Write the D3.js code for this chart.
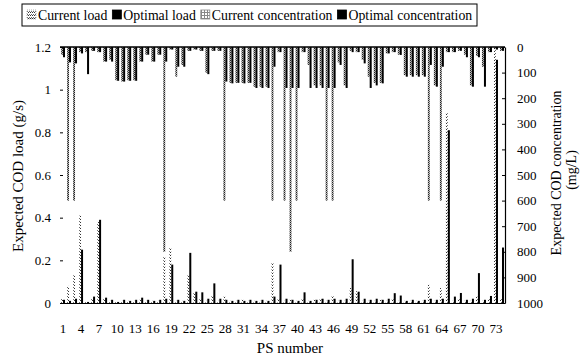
<!DOCTYPE html>
<html>
<head>
<meta charset="utf-8">
<script src="https://cdn.jsdelivr.net/npm/d3@7"></script>
<style>
  body { margin: 0; background: #fff; }
  svg, svg text { font-family: "Liberation Serif", "DejaVu Serif", serif; }
</style>
</head>
<body>
<div id="chart"></div>
<script>
// PS numbers 1..74
const psNumbers = d3.range(1, 75);

// expected COD load (g/s)
const currentLoad = [
  0.02, 0.08, 0.13, 0.41, 0.005, 0.02, 0.38, 0.02, 0.01, 0.005,
  0.01, 0.01, 0.01, 0.015, 0.01, 0.01, 0.01, 0.22, 0.26, 0.01,
  0.01, 0.13, 0.05, 0.02, 0.01, 0.035, 0.01, 0.03, 0.01, 0.01,
  0.015, 0.01, 0.01, 0.01, 0.01, 0.19, 0.02, 0.01, 0.015, 0.01,
  0.02, 0.01, 0.015, 0.02, 0.01, 0.037, 0.01, 0.01, 0.07, 0.055,
  0.01, 0.01, 0.01, 0.015, 0.01, 0.02, 0.01, 0.01, 0.01, 0.01,
  0.01, 0.085, 0.01, 0.07, 0.89, 0.01, 0.02, 0.01, 0.01, 0.03,
  0.01, 0.02, 1.19, 0.02
];
const optimalLoad = [
  0.015, 0.01, 0.02, 0.25, 0.005, 0.03, 0.39, 0.025, 0.015, 0.005,
  0.015, 0.01, 0.015, 0.025, 0.015, 0.01, 0.015, 0.02, 0.18, 0.015,
  0.01, 0.235, 0.053, 0.05, 0.02, 0.092, 0.02, 0.015, 0.01, 0.015,
  0.01, 0.015, 0.01, 0.015, 0.01, 0.03, 0.18, 0.02, 0.015, 0.01,
  0.05, 0.01, 0.015, 0.02, 0.015, 0.02, 0.015, 0.02, 0.205, 0.053,
  0.02, 0.015, 0.02, 0.015, 0.02, 0.046, 0.035, 0.01, 0.015, 0.01,
  0.015, 0.02, 0.015, 0.02, 0.81, 0.03, 0.047, 0.015, 0.02, 0.14,
  0.015, 0.033, 1.14, 0.26
];

// expected COD concentration (mg/L)
const currentConc = [
  30, 600, 600, 20, 20, 15, 20, 57, 50, 130,
  135, 130, 130, 57, 30, 57, 30, 800, 10, 116,
  70, 15, 10, 15, 100, 15, 15, 600, 140, 140,
  140, 140, 155, 155, 155, 600, 20, 600, 800, 600,
  20, 70, 150, 150, 600, 600, 60, 150, 15, 20,
  50, 116, 140, 140, 25, 20, 30, 110, 110, 110,
  110, 600, 150, 600, 20, 20, 15, 30, 150, 35,
  77, 20, 10, 15
];
const optimalConc = [
  40, 60, 64, 25, 106, 15, 20, 57, 57, 132,
  135, 132, 132, 57, 30, 57, 30, 57, 10, 77,
  77, 15, 10, 15, 106, 15, 15, 135, 142, 140,
  142, 140, 160, 160, 160, 77, 20, 160, 160, 160,
  20, 160, 160, 160, 160, 160, 70, 160, 20, 20,
  64, 160, 150, 142, 25, 20, 31, 116, 116, 116,
  116, 70, 155, 77, 20, 20, 15, 40, 155, 40,
  155, 20, 10, 15
];

const xTickLabels = [1, 4, 7, 10, 13, 16, 19, 22, 25, 28, 31, 34, 37, 40, 43, 46, 49, 52, 55, 58, 61, 64, 67, 70, 73];
const loadTicks = [0, 0.2, 0.4, 0.6, 0.8, 1, 1.2];
const concTicks = [0, 100, 200, 300, 400, 500, 600, 700, 800, 900, 1000];

const width = 580, height = 357;
const plot = { left: 60, right: 505, top: 47, bottom: 303 };
const serif = '"Liberation Serif", "DejaVu Serif", serif';

const svg = d3.select('#chart').append('svg')
  .attr('width', width)
  .attr('height', height)
  .attr('font-family', serif);

/* ---------- fill patterns ---------- */
const defs = svg.append('defs');
const patLoad = defs.append('pattern').attr('id', 'patLoad')
  .attr('patternUnits', 'userSpaceOnUse').attr('width', 2).attr('height', 3);
patLoad.append('rect').attr('width', 2).attr('height', 3).attr('fill', '#fff');
patLoad.append('rect').attr('width', 1).attr('height', 1).attr('fill', '#333');
patLoad.append('rect').attr('x', 1).attr('y', 2).attr('width', 1).attr('height', 1).attr('fill', '#666');

const patConc = defs.append('pattern').attr('id', 'patConc')
  .attr('patternUnits', 'userSpaceOnUse').attr('width', 2).attr('height', 2);
patConc.append('rect').attr('width', 2).attr('height', 2).attr('fill', '#bbb');
patConc.append('rect').attr('width', 1).attr('height', 1).attr('fill', '#222');
patConc.append('rect').attr('x', 1).attr('y', 1).attr('width', 1).attr('height', 1).attr('fill', '#444');

const patGrid = defs.append('pattern').attr('id', 'patGrid')
  .attr('patternUnits', 'userSpaceOnUse').attr('width', 3).attr('height', 3);
patGrid.append('rect').attr('width', 3).attr('height', 3).attr('fill', '#fff');
patGrid.append('rect').attr('width', 3).attr('height', 1).attr('fill', '#888');
patGrid.append('rect').attr('width', 1).attr('height', 3).attr('fill', '#888');

/* ---------- scales ---------- */
const x = d3.scaleBand().domain(psNumbers).range([plot.left, plot.right]).padding(0);
const bw = x.bandwidth();
const slot = d3.scaleBand().domain(['current', 'optimal']).range([bw / 2 - 2, bw / 2 + 2]);
const yLoad = d3.scaleLinear().domain([0, 1.2]).range([plot.bottom, plot.top]);
const yConc = d3.scaleLinear().domain([0, 1000]).range([plot.top, plot.bottom]);

const series = [
  { key: 'currentConc', values: currentConc, slot: 'current', axis: 'conc', fill: 'url(#patConc)' },
  { key: 'optimalConc', values: optimalConc, slot: 'optimal', axis: 'conc', fill: '#000' },
  { key: 'currentLoad', values: currentLoad, slot: 'current', axis: 'load', fill: 'url(#patLoad)' },
  { key: 'optimalLoad', values: optimalLoad, slot: 'optimal', axis: 'load', fill: '#000' }
];

const bars = svg.append('g').attr('class', 'bars');
series.forEach(s => {
  bars.append('g').attr('class', s.key)
    .selectAll('rect')
    .data(s.values.map((v, i) => ({ ps: psNumbers[i], v: v })))
    .join('rect')
    .attr('x', d => x(d.ps) + slot(s.slot))
    .attr('width', slot.bandwidth())
    .attr('y', d => s.axis === 'load' ? yLoad(d.v) : plot.top)
    .attr('height', d => s.axis === 'load' ? plot.bottom - yLoad(d.v) : yConc(d.v) - plot.top)
    .attr('fill', s.fill);
});

/* ---------- axes ---------- */
const axisLeft = svg.append('g')
  .attr('transform', 'translate(' + plot.left + ',0)')
  .call(d3.axisLeft(yLoad).tickValues(loadTicks).tickSize(-3).tickPadding(9).tickFormat(d => String(d)));
axisLeft.select('.domain').remove();

const axisRight = svg.append('g')
  .attr('transform', 'translate(' + plot.right + ',0)')
  .call(d3.axisRight(yConc).tickValues(concTicks).tickSizeInner(-3).tickSizeOuter(0).tickPadding(12).tickFormat(d => String(d)));

const axisBottom = svg.append('g')
  .attr('transform', 'translate(0,' + plot.bottom + ')')
  .call(d3.axisBottom(x).tickValues(xTickLabels).tickSize(0).tickPadding(21));

svg.append('line')
  .attr('x1', plot.left).attr('x2', plot.right)
  .attr('y1', plot.top).attr('y2', plot.top)
  .attr('stroke', '#000').attr('stroke-width', 1.5);

svg.selectAll('g').filter(function() { return this.hasAttribute('font-family'); })
  .attr('font-family', serif);
svg.selectAll('.tick text')
  .attr('font-family', serif)
  .attr('font-size', 13)
  .attr('fill', '#000');
svg.selectAll('.domain').attr('stroke', '#000').attr('stroke-width', 1.2);
svg.selectAll('.tick line').attr('stroke', '#000');

/* ---------- titles ---------- */
svg.append('text')
  .attr('transform', 'translate(23,176) rotate(-90)')
  .attr('text-anchor', 'middle')
  .attr('font-family', serif)
  .attr('font-size', 15)
  .text('Expected COD load (g/s)');

svg.append('text')
  .attr('transform', 'translate(561,173) rotate(-90)')
  .attr('text-anchor', 'middle')
  .attr('font-family', serif)
  .attr('font-size', 14)
  .text('Expected COD concentration');

svg.append('text')
  .attr('transform', 'translate(576,170) rotate(-90)')
  .attr('text-anchor', 'middle')
  .attr('font-family', serif)
  .attr('font-size', 14)
  .text('(mg/L)');

svg.append('text')
  .attr('x', 290).attr('y', 353)
  .attr('text-anchor', 'middle')
  .attr('font-family', serif)
  .attr('font-size', 15)
  .text('PS number');

/* ---------- legend ---------- */
const legendItems = [
  { label: 'Current load', fill: 'url(#patLoad)', stroke: '#999' },
  { label: 'Optimal load', fill: '#000', stroke: '#000' },
  { label: 'Current concentration', fill: 'url(#patGrid)', stroke: '#888' },
  { label: 'Optimal concentration', fill: '#000', stroke: '#000' }
];

const legend = svg.append('g').attr('class', 'legend');
legend.append('rect')
  .attr('x', 22).attr('y', 4).attr('width', 455).attr('height', 22)
  .attr('fill', '#fff').attr('stroke', '#000').attr('stroke-width', 1);

let lx = 27;
legendItems.forEach(item => {
  legend.append('rect')
    .attr('x', lx).attr('y', 10).attr('width', 9).attr('height', 9)
    .attr('fill', item.fill).attr('stroke', item.stroke).attr('stroke-width', 0.8)
    .attr('stroke-dasharray', item.fill === 'url(#patLoad)' ? '1,1' : null);
  const t = legend.append('text')
    .attr('x', lx + 11).attr('y', 20)
    .attr('font-family', serif)
    .attr('font-size', 13.8)
    .text(item.label);
  lx += 11 + t.node().getComputedTextLength() + 5;
});
</script>
</body>
</html>
